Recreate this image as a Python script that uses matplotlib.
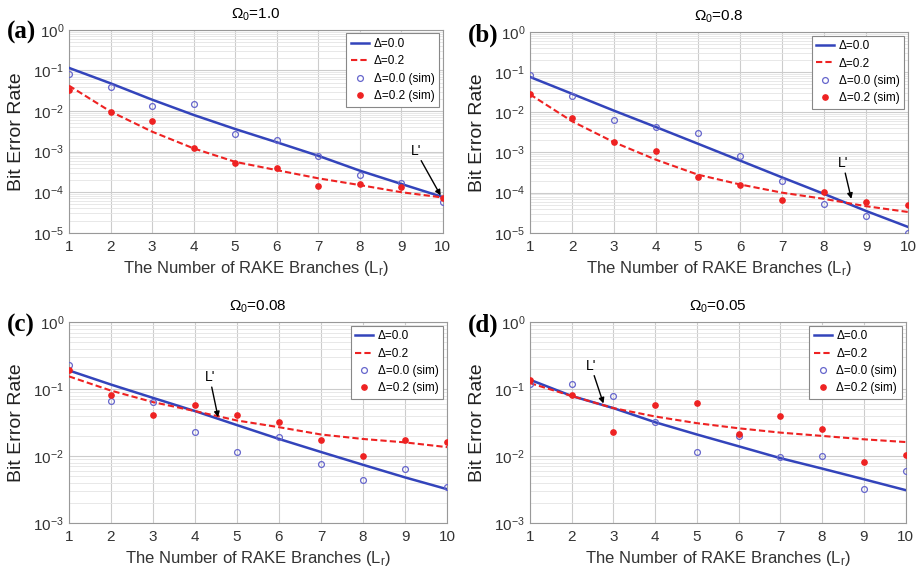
import numpy as np
import matplotlib
matplotlib.use("Agg")
import matplotlib.pyplot as plt

plt.rcParams["font.family"] = ["Liberation Sans", "DejaVu Sans"]
plt.rcParams["mathtext.fontset"] = "custom"
plt.rcParams["mathtext.rm"] = "Liberation Sans"
plt.rcParams["mathtext.it"] = "Liberation Sans:italic"
plt.rcParams["mathtext.bf"] = "Liberation Sans:bold"

L = [1, 2, 3, 4, 5, 6, 7, 8, 9, 10]

titles = [r"$\mathrm{\Omega_0}$=1.0", r"$\mathrm{\Omega_0}$=0.8", r"$\mathrm{\Omega_0}$=0.08", r"$\mathrm{\Omega_0}$=0.05"]
panel_labels = ["(a)", "(b)", "(c)", "(d)"]
legend_labels = ["Δ=0.0", "Δ=0.2", "Δ=0.0 (sim)", "Δ=0.2 (sim)"]
xlabel = r"The Number of RAKE Branches (L$_\mathrm{r}$)"
ylabel = "Bit Error Rate"

# (a) Omega0 = 1.0
a_theory_d0 = [1.15e-1, 4.8e-2, 1.9e-2, 8.0e-3, 3.6e-3, 1.7e-3, 7.9e-4, 3.4e-4, 1.6e-4, 7.6e-5]
a_theory_d2 = [4.2e-2, 9.7e-3, 3.1e-3, 1.2e-3, 5.6e-4, 3.5e-4, 2.2e-4, 1.5e-4, 1.0e-4, 7.4e-5]
a_sim_d0 = [8.2e-2, 3.9e-2, 1.36e-2, 1.47e-2, 2.7e-3, 1.9e-3, 7.9e-4, 2.6e-4, 1.7e-4, 5.6e-5]
a_sim_d2 = [3.3e-2, 9.7e-3, 5.8e-3, 1.2e-3, 5.3e-4, 4.0e-4, 1.4e-4, 1.55e-4, 1.35e-4, 7.0e-5]

# (b) Omega0 = 0.8
b_theory_d0 = [7.6e-2, 2.9e-2, 1.1e-2, 4.3e-3, 1.65e-3, 6.3e-4, 2.4e-4, 9.3e-5, 3.5e-5, 1.4e-5]
b_theory_d2 = [2.8e-2, 6.0e-3, 1.8e-3, 6.6e-4, 2.8e-4, 1.6e-4, 1.0e-4, 7.0e-5, 4.6e-5, 3.3e-5]
b_sim_d0 = [8.7e-2, 2.5e-2, 6.6e-3, 4.3e-3, 3.0e-3, 8.4e-4, 2.0e-4, 5.3e-5, 2.6e-5, 1.0e-5]
b_sim_d2 = [2.9e-2, 7.2e-3, 1.8e-3, 1.07e-3, 2.4e-4, 1.55e-4, 6.5e-5, 1.05e-4, 6.0e-5, 4.8e-5]

# (c) Omega0 = 0.08
c_theory_d0 = [1.9e-1, 1.17e-1, 7.4e-2, 4.7e-2, 2.9e-2, 1.8e-2, 1.15e-2, 7.4e-3, 4.8e-3, 3.2e-3]
c_theory_d2 = [1.55e-1, 9.5e-2, 6.4e-2, 4.7e-2, 3.4e-2, 2.7e-2, 2.1e-2, 1.8e-2, 1.6e-2, 1.36e-2]
c_sim_d0 = [2.3e-1, 6.6e-2, 6.4e-2, 2.3e-2, 1.15e-2, 1.9e-2, 7.6e-3, 4.4e-3, 6.5e-3, 3.5e-3]
c_sim_d2 = [1.9e-1, 8.3e-2, 4.1e-2, 5.8e-2, 4.1e-2, 3.2e-2, 1.75e-2, 1.0e-2, 1.75e-2, 1.6e-2]

# (d) Omega0 = 0.05
d_theory_d0 = [1.38e-1, 7.9e-2, 5.2e-2, 3.2e-2, 2.1e-2, 1.4e-2, 9.3e-3, 6.5e-3, 4.5e-3, 3.1e-3]
d_theory_d2 = [1.23e-1, 7.9e-2, 5.2e-2, 3.9e-2, 3.1e-2, 2.6e-2, 2.24e-2, 2.0e-2, 1.78e-2, 1.62e-2]
d_sim_d0 = [1.18e-1, 1.2e-1, 7.9e-2, 3.2e-2, 1.15e-2, 2.0e-2, 9.7e-3, 1.0e-2, 3.2e-3, 6.0e-3]
d_sim_d2 = [1.38e-1, 8.3e-2, 2.3e-2, 5.7e-2, 6.2e-2, 2.15e-2, 4.0e-2, 2.56e-2, 8.1e-3, 1.05e-2]

theory_d0 = [a_theory_d0, b_theory_d0, c_theory_d0, d_theory_d0]
theory_d2 = [a_theory_d2, b_theory_d2, c_theory_d2, d_theory_d2]
sim_d0 = [a_sim_d0, b_sim_d0, c_sim_d0, d_sim_d0]
sim_d2 = [a_sim_d2, b_sim_d2, c_sim_d2, d_sim_d2]

ylims = [(1e-5, 1e0), (1e-5, 1e0), (1e-3, 1e0), (1e-3, 1e0)]
# L' annotation: (text x, text y, arrow x, arrow y)
lprime = [(9.35, 7.0e-4, 9.95, 8.3e-5),
          (8.45, 3.6e-4, 8.65, 7.0e-5),
          (4.35, 0.118, 4.55, 0.038),
          (2.46, 0.175, 2.76, 0.061)]

positions = [
    [0.0753, 0.593, 0.408, 0.355],
    [0.5786, 0.593, 0.4127, 0.351],
    [0.0753, 0.0857, 0.4127, 0.351],
    [0.5786, 0.0857, 0.410, 0.351],
]

blue = "#3344bb"
red = "#ee2222"

fig = plt.figure(figsize=(9.16, 5.72), dpi=100)
for i in range(4):
    ax = fig.add_axes(positions[i])
    ax.set_yscale("log")
    ax.plot(L, theory_d0[i], color=blue, lw=1.8, label=legend_labels[0], zorder=3)
    ax.plot(L, theory_d2[i], color=red, lw=1.5, ls=(0, (3, 1.5)), label=legend_labels[1], zorder=3)
    ax.plot(L, sim_d0[i], ls="none", marker="o", ms=4.2, mfc="none", mec="#6666cc",
            mew=0.9, label=legend_labels[2], zorder=4)
    ax.plot(L, sim_d2[i], ls="none", marker="o", ms=3.8, mfc=red, mec=red,
            label=legend_labels[3], zorder=4)
    ax.set_xlim(1, 10)
    ax.set_ylim(*ylims[i])
    ax.set_xticks(L)
    lo, hi = ylims[i]
    ax.set_yticks([10.0 ** k for k in range(int(np.log10(lo)), int(np.log10(hi)) + 1)])
    ax.grid(True, which="major", color="#cccccc", lw=0.8)
    ax.grid(True, which="minor", axis="y", color="#e4e4e4", lw=0.6)
    ax.tick_params(which="both", direction="in", length=0, labelsize=11, colors="#333333")
    ax.tick_params(axis="x", pad=5)
    for s in ax.spines.values():
        s.set_color("#999999")
    ax.set_title(titles[i], fontsize=11, pad=8)
    ax.set_xlabel(xlabel, fontsize=12, color="#333333", labelpad=4)
    ax.set_ylabel(ylabel, fontsize=14, color="#222222", labelpad=6)
    leg = ax.legend(loc="upper right", fontsize=8.5, handlelength=1.5, handletextpad=0.4,
                    borderpad=0.4, labelspacing=0.45, fancybox=False, framealpha=1,
                    edgecolor="#888888", borderaxespad=0.3)
    leg.get_frame().set_linewidth(0.8)
    tx, ty, axx, ayy = lprime[i]
    ax.annotate("L'", xy=(axx, ayy), xytext=(tx, ty), fontsize=10, ha="center", va="bottom",
                arrowprops=dict(arrowstyle="-|>", color="black", lw=1.0, mutation_scale=8,
                                shrinkA=0, shrinkB=0), zorder=5)
    fig.text(positions[i][0] - 0.068, positions[i][1] + positions[i][3] - 0.005, panel_labels[i],
             fontsize=18, fontweight="bold", family="Liberation Serif", va="center", ha="left")

fig.savefig("out.png", dpi=100)
